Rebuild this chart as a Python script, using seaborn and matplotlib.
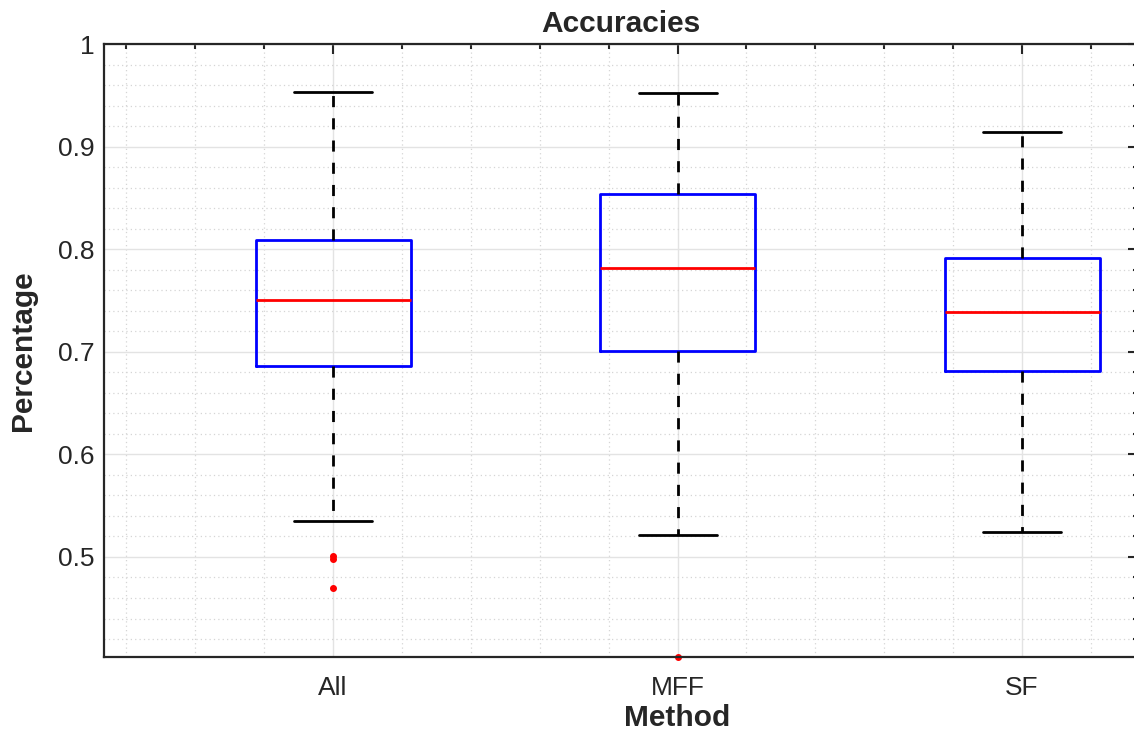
import pandas as pd
import matplotlib.pyplot as plt
import matplotlib.transforms as mtransforms
from matplotlib.ticker import MultipleLocator, FixedLocator
import seaborn as sns

# accuracies per method (whisker ends, quartiles, median, outliers)
acc_all = [0.4695, 0.4977, 0.5009, 0.535, 0.686, 0.70, 0.72, 0.74, 0.750,
           0.76, 0.78, 0.80, 0.809, 0.84, 0.88, 0.92, 0.953]
acc_mff = [0.4025, 0.521, 0.60, 0.66, 0.701, 0.72, 0.75, 0.77, 0.782,
           0.80, 0.82, 0.84, 0.854, 0.88, 0.91, 0.94, 0.952]
acc_sf = [0.524, 0.58, 0.63, 0.67, 0.681, 0.70, 0.715, 0.73, 0.739,
          0.75, 0.765, 0.78, 0.791, 0.82, 0.85, 0.88, 0.914]
methods = ["All", "MFF", "SF"]

df = pd.DataFrame({
    "Method": ["All"] * len(acc_all) + ["MFF"] * len(acc_mff) + ["SF"] * len(acc_sf),
    "Percentage": acc_all + acc_mff + acc_sf,
})

sns.set_style("white")
plt.rcParams["font.family"] = ["Liberation Sans", "DejaVu Sans"]

fig = plt.figure(figsize=(11.34, 7.31), dpi=100)
ax = fig.add_axes([104 / 1134, 74 / 731, 1033.5 / 1134, 613 / 731])

sns.boxplot(data=df, x="Method", y="Percentage", order=methods, ax=ax,
            fill=False, width=0.45, capwidths=0.226, whis=1.5,
            boxprops=dict(color="#0000ff", linewidth=2.0),
            medianprops=dict(color="#ff0000", linewidth=2.0),
            whiskerprops=dict(color="black", linewidth=2.0, linestyle=(0, (4, 4))),
            capprops=dict(color="black", linewidth=2.0),
            flierprops=dict(marker="o", markersize=4, markerfacecolor="#ff0000",
                            markeredgecolor="#ff0000"))

for ln in ax.lines:
    ln.set_clip_on(False)

ax.set_xlim(-0.665, 2.335)
ax.set_ylim(0.4025, 1.0)

ax.yaxis.set_major_locator(FixedLocator([0.5, 0.6, 0.7, 0.8, 0.9, 1.0]))
ax.set_yticklabels(["0.5", "0.6", "0.7", "0.8", "0.9", "1"])
ax.yaxis.set_minor_locator(MultipleLocator(0.02))
ax.xaxis.set_minor_locator(FixedLocator([-0.6 + 0.2 * i for i in range(15)]))

ax.grid(True, which="major", color="#e3e3e3", linewidth=1.0, linestyle="-")
ax.grid(True, which="minor", color="#d5d5d5", linewidth=0.9, linestyle=(0, (1, 2.5)))
ax.set_axisbelow(True)

ax.tick_params(which="both", direction="in", top=True, right=True,
               width=1.5, color="#262626", labelcolor="#262626", labelsize=19)
ax.tick_params(which="major", length=7.5)
ax.tick_params(which="minor", length=3.8)
ax.tick_params(axis="y", pad=7)
ax.tick_params(axis="x", pad=13.5)

for sp in ax.spines.values():
    sp.set_visible(True)
    sp.set_color("#262626")
    sp.set_linewidth(1.6)

ax.set_title("Accuracies", fontsize=21.5, fontweight="bold", pad=9)
ax.set_xlabel("Method", fontsize=21.5, fontweight="bold", color="#262626")
ax.set_ylabel("Percentage", fontsize=21.5, fontweight="bold", color="#262626", labelpad=15)
ax.xaxis.set_label_coords(1, -0.077,
                          transform=mtransforms.blended_transform_factory(ax.transData, ax.transAxes))

fig.savefig("out.png", dpi=100)
